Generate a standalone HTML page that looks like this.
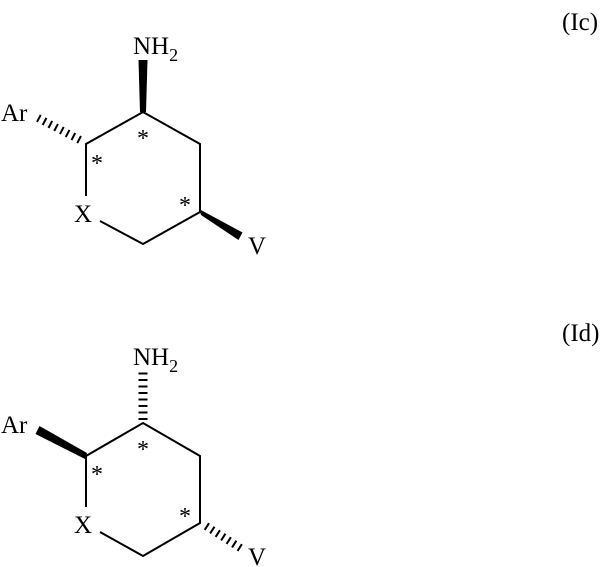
<!DOCTYPE html>
<html><head><style>html,body{margin:0;padding:0;background:#fff}svg{display:block}text{font-family:"Liberation Serif",serif;fill:#000}</style></head>
<body>
<svg width="606" height="567" viewBox="0 0 606 567" xmlns="http://www.w3.org/2000/svg">
<defs>
<clipPath id="h1"><polygon points="36,117 90,140 84,150 34,122"/></clipPath>
</defs>
<g stroke="#000" stroke-width="2" fill="none">
<polyline points="86,196 86,144 143,112 200,144 200,212 143,244 100,221"/>
<polyline points="86,507 86,456 143,423 200,456 200,523 143,556 100,532"/>
</g>
<!-- wedges (nearly constant width) -->
<polygon points="140,112 146,112 147.5,60 138.5,60" fill="#000"/>
<polygon points="199,209 201,215 238.5,240 242.5,232.5" fill="#000"/>
<polygon points="87,453 85,459 35.5,434 39.5,426" fill="#000"/>
<!-- hashes -->
<line x1="80" y1="140" x2="38" y2="118" stroke="#000" stroke-width="8" stroke-dasharray="2 4.5"/>
<line x1="143" y1="420" x2="143" y2="371" stroke="#000" stroke-width="9" stroke-dasharray="2 4.5"/>
<line x1="206" y1="526" x2="242" y2="549" stroke="#000" stroke-width="8" stroke-dasharray="2 4.5"/>
<g font-size="25">
<text x="133" y="54">NH<tspan font-size="18" dy="7">2</tspan></text>
<text x="1" y="121">Ar</text>
<text x="74" y="222">X</text>
<text x="248" y="254">V</text>
<text x="562" y="30">(Ic)</text>
<text x="133" y="365">NH<tspan font-size="18" dy="7">2</tspan></text>
<text x="1" y="433">Ar</text>
<text x="74" y="533">X</text>
<text x="248" y="565">V</text>
<text x="562" y="341">(Id)</text>
</g>
<g font-size="24" text-anchor="middle">
<text x="143" y="146">*</text>
<text x="97" y="171">*</text>
<text x="185" y="213">*</text>
<text x="143" y="457">*</text>
<text x="97" y="482">*</text>
<text x="185" y="524">*</text>
</g>
</svg>
</body></html>
